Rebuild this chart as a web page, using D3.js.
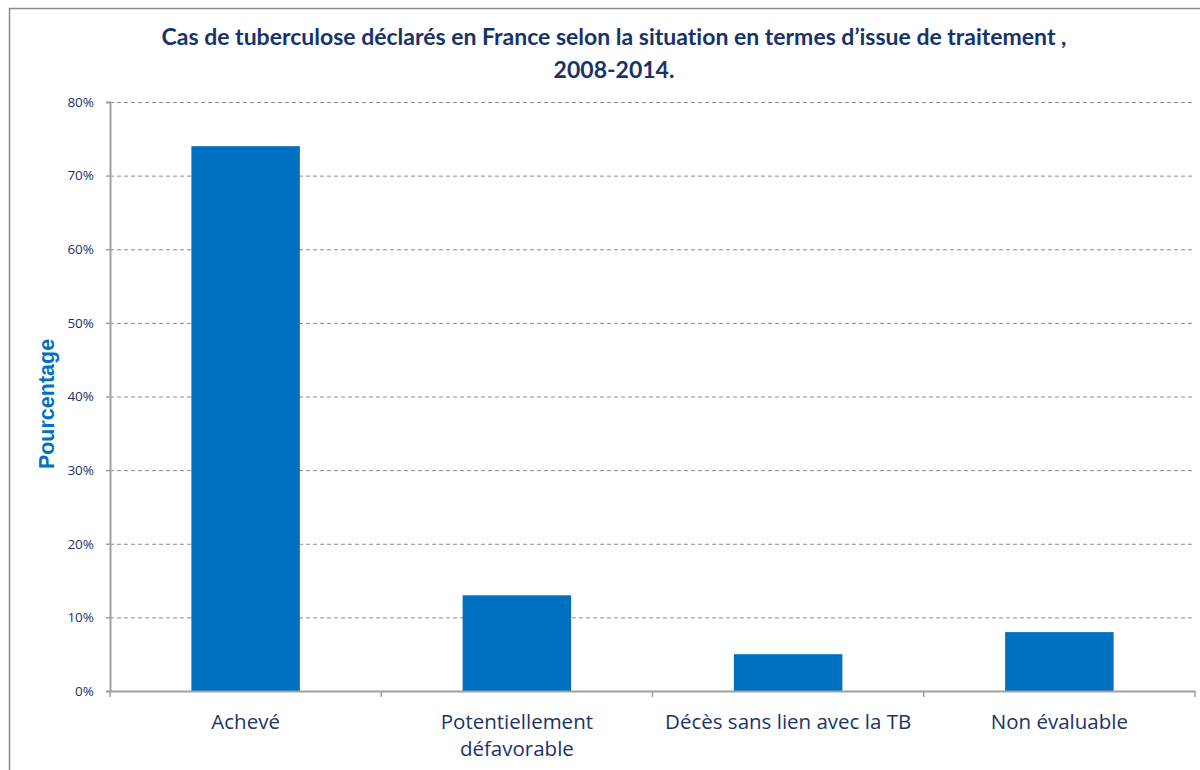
<!doctype html>
<html lang="fr">
<head>
<meta charset="UTF-8">
<title>Cas de tuberculose</title>
<style>
    body { margin: 0; background: #fff; }
    svg { display: block; }
    text { font-variant-ligatures: none; }
</style>
</head>
<body>
<div class="chart"></div>
<script src="https://d3js.org/d3.v7.min.js"></script>
<script>
    // data
    const categories = ['Achevé', 'Potentiellement|défavorable', 'Décès sans lien avec la TB', 'Non évaluable']
    const values = [74, 13, 5, 8]
    const yTicks = [0, 10, 20, 30, 40, 50, 60, 70, 80]
    const titleLines = ['Cas de tuberculose déclarés en France selon la situation en termes d’issue de traitement ,', '2008-2014.']

    const width = 1200, height = 770
    const plot = { left: 110, right: 1195, top: 102, bottom: 691 }
    const navy = '#1b3368'

    const svg = d3.select('.chart').append('svg')
        .attr('width', width)
        .attr('height', height)

    // chart frame
    svg.append('rect')
        .attr('x', 9.5).attr('y', 8.5)
        .attr('width', 1300).attr('height', 800)
        .attr('fill', 'none')
        .attr('stroke', '#8a8a8a')
        .attr('stroke-width', 1.5)

    // title
    svg.append('text')
        .attr('text-anchor', 'middle')
        .attr('font-family', 'Lato, sans-serif')
        .attr('font-weight', 'bold')
        .attr('font-size', '23px')
        .attr('fill', '#17336b')
        .selectAll('tspan')
        .data(titleLines)
        .enter().append('tspan')
            .attr('x', 614)
            .attr('y', (d, i) => 45 + i * 33)
            .text(d => d)

    const xScale = d3.scaleBand()
        .domain(categories)
        .range([plot.left, plot.right])
        .padding(0)
    const yScale = d3.scaleLinear()
        .domain([0, 80])
        .range([plot.bottom, plot.top])

    // gridlines
    svg.append('g')
        .selectAll('line')
        .data(yTicks.filter(d => d > 0))
        .enter().append('line')
            .attr('x1', plot.left).attr('x2', plot.right)
            .attr('y1', d => yScale(d) + 0.5).attr('y2', d => yScale(d) + 0.5)
            .attr('stroke', '#8c8c8c')
            .attr('stroke-dasharray', '4,3')

    // bars
    const barW = xScale.bandwidth() * 0.4
    svg.append('g')
        .selectAll('rect')
        .data(values)
        .enter().append('rect')
            .attr('x', (d, i) => xScale(categories[i]) + (xScale.bandwidth() - barW) / 2)
            .attr('y', d => yScale(d))
            .attr('width', barW)
            .attr('height', d => plot.bottom - yScale(d))
            .attr('fill', '#0070c0')

    // y axis
    const yAxis = d3.axisLeft(yScale)
        .tickValues(yTicks)
        .tickFormat(d => d + '%')
        .tickSize(4)
        .tickPadding(12)
    const yG = svg.append('g')
        .attr('transform', 'translate(' + plot.left + ',0)')
        .call(yAxis)
    yG.select('.domain').attr('stroke', '#a0a0a0').attr('stroke-width', 2)
    yG.selectAll('.tick line').attr('stroke', '#a0a0a0').attr('stroke-width', 1.5)
    yG.selectAll('.tick text')
        .attr('font-family', '"Open Sans", sans-serif')
        .attr('font-size', '13.5px')
        .attr('fill', navy)

    // x axis
    const xAxis = d3.axisBottom(xScale).tickSize(0).tickFormat('')
    const xG = svg.append('g')
        .attr('transform', 'translate(0,' + plot.bottom + ')')
        .call(xAxis)
    xG.select('.domain').attr('stroke', '#a0a0a0').attr('stroke-width', 2)
    xG.selectAll('.tick').remove()
    xG.selectAll('.sep')
        .data(categories.map(c => xScale(c)).concat([plot.right]))
        .enter().append('line')
            .attr('class', 'sep')
            .attr('x1', d => d).attr('x2', d => d)
            .attr('y1', 0).attr('y2', 6)
            .attr('stroke', '#a0a0a0')
            .attr('stroke-width', 1.5)

    // category labels
    const labels = svg.append('g')
        .attr('font-family', '"Open Sans", sans-serif')
        .attr('font-size', '20.5px')
        .attr('fill', navy)
        .attr('text-anchor', 'middle')
    categories.forEach(function(c) {
        const t = labels.append('text')
        c.split('|').forEach(function(part, i) {
            t.append('tspan')
                .attr('x', xScale(c) + xScale.bandwidth() / 2)
                .attr('y', 729 + i * 27)
                .text(part)
        })
    })

    // y axis title
    svg.append('text')
        .attr('transform', 'translate(54,404) rotate(-90)')
        .attr('text-anchor', 'middle')
        .attr('font-family', '"Liberation Sans", Arial, sans-serif')
        .attr('font-weight', 'bold')
        .attr('font-size', '21.5px')
        .attr('fill', '#0070c0')
        .text('Pourcentage')
</script>
</body>
</html>
